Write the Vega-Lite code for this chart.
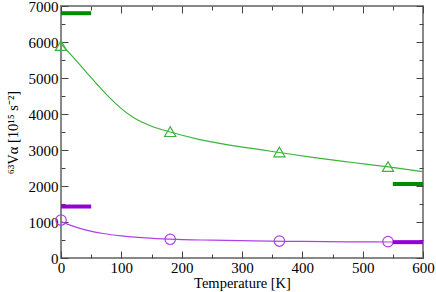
{
  "$schema": "https://vega.github.io/schema/vega-lite/v6.json",
  "width": 362,
  "height": 252,
  "autosize": "none",
  "padding": {"left": 61, "top": 6, "right": 13, "bottom": 34},
  "config": {
    "font": "serif",
    "view": {"stroke": "#888888", "strokeWidth": 2},
    "axis": {"grid": false, "domain": false, "labelFont": "serif", "titleFont": "serif", "labelColor": "black", "titleColor": "black", "labelFontSize": 15, "titleFontSize": 14.5, "titleFontWeight": "normal", "tickColor": "#444444", "tickWidth": 1, "format": "d"}
  },
  "datasets": {
    "curves": [
      {"T": 0, "V": 5950, "s": "g"}, {"T": 20, "V": 5580, "s": "g"}, {"T": 40, "V": 5200, "s": "g"}, {"T": 60, "V": 4820, "s": "g"}, {"T": 80, "V": 4460, "s": "g"}, {"T": 100, "V": 4150, "s": "g"}, {"T": 120, "V": 3900, "s": "g"}, {"T": 150, "V": 3660, "s": "g"}, {"T": 181, "V": 3500, "s": "g"}, {"T": 230, "V": 3290, "s": "g"}, {"T": 313, "V": 3050, "s": "g"}, {"T": 362, "V": 2930, "s": "g"}, {"T": 420, "V": 2790, "s": "g"}, {"T": 480, "V": 2660, "s": "g"}, {"T": 543, "V": 2530, "s": "g"}, {"T": 600, "V": 2400, "s": "g"},
      {"T": 0, "V": 1010, "s": "p"}, {"T": 20, "V": 885, "s": "p"}, {"T": 40, "V": 780, "s": "p"}, {"T": 70, "V": 680, "s": "p"}, {"T": 100, "V": 615, "s": "p"}, {"T": 140, "V": 560, "s": "p"}, {"T": 180, "V": 525, "s": "p"}, {"T": 250, "V": 495, "s": "p"}, {"T": 320, "V": 475, "s": "p"}, {"T": 400, "V": 460, "s": "p"}, {"T": 480, "V": 450, "s": "p"}, {"T": 543, "V": 445, "s": "p"}, {"T": 600, "V": 440, "s": "p"}
    ],
    "points": [
      {"T": 0, "V": 5900, "s": "g"}, {"T": 181, "V": 3510, "s": "g"}, {"T": 362, "V": 2945, "s": "g"}, {"T": 542, "V": 2540, "s": "g"},
      {"T": 0, "V": 1055, "s": "p"}, {"T": 181, "V": 520, "s": "p"}, {"T": 362, "V": 470, "s": "p"}, {"T": 542, "V": 455, "s": "p"}
    ],
    "bars": [
      {"T1": 0, "T2": 50, "V": 6800, "s": "g"}, {"T1": 550, "T2": 600, "V": 2055, "s": "g"},
      {"T1": 0, "T2": 50, "V": 1430, "s": "p"}, {"T1": 550, "T2": 600, "V": 440, "s": "p"}
    ]
  },
  "layer": [
    {
      "data": {"name": "curves"},
      "mark": {"type": "line", "strokeWidth": 1.2, "interpolate": "monotone"},
      "encoding": {
        "x": {"field": "T", "type": "quantitative", "scale": {"domain": [0, 600], "nice": false}, "axis": null},
        "y": {"field": "V", "type": "quantitative", "scale": {"domain": [0, 7000], "nice": false}, "axis": null},
        "color": {"field": "s", "type": "nominal", "scale": {"domain": ["g", "p"], "range": ["#3cb43c", "#b040e6"]}, "legend": null}
      }
    },
    {
      "data": {"name": "points"},
      "mark": {"type": "point", "filled": false, "strokeWidth": 1.2, "opacity": 1},
      "encoding": {
        "x": {"field": "T", "type": "quantitative", "axis": null},
        "y": {"field": "V", "type": "quantitative", "axis": null},
        "color": {"field": "s", "type": "nominal", "scale": {"domain": ["g", "p"], "range": ["#3cb43c", "#b040e6"]}, "legend": null},
        "shape": {"field": "s", "type": "nominal", "scale": {"domain": ["g", "p"], "range": ["triangle-up", "circle"]}, "legend": null},
        "size": {"field": "s", "type": "nominal", "scale": {"domain": ["g", "p"], "range": [125, 110]}, "legend": null}
      }
    },
    {
      "data": {"name": "bars"},
      "mark": {"type": "rule", "strokeWidth": 4},
      "encoding": {
        "x": {"field": "T1", "type": "quantitative", "axis": null},
        "x2": {"field": "T2"},
        "y": {"field": "V", "type": "quantitative", "axis": null},
        "color": {"field": "s", "type": "nominal", "scale": {"domain": ["g", "p"], "range": ["#008b00", "#9400d3"]}, "legend": null}
      }
    },
    {
      "data": {"values": [{}]},
      "mark": {"type": "point", "opacity": 0},
      "encoding": {
        "x": {"datum": 0, "type": "quantitative", "axis": {"orient": "bottom", "values": [0, 100, 200, 300, 400, 500, 600], "ticks": false, "labelPadding": 2, "title": "Temperature [K]", "titlePadding": 1, "labelFlush": false}},
        "y": {"datum": 0, "type": "quantitative", "axis": {"orient": "left", "values": [0, 1000, 2000, 3000, 4000, 5000, 6000, 7000], "ticks": false, "labelPadding": 3, "title": "⁶³Vα [10¹⁵ s⁻²]", "titlePadding": 8, "labelFlush": false}}
      }
    },
    {
      "data": {"values": [{}]},
      "mark": {"type": "point", "opacity": 0},
      "encoding": {
        "x": {"datum": 0, "type": "quantitative", "axis": {"orient": "bottom", "values": [0, 100, 200, 300, 400, 500, 600], "labels": false, "tickSize": -7, "title": null}},
        "y": {"datum": 0, "type": "quantitative", "axis": {"orient": "left", "values": [0, 1000, 2000, 3000, 4000, 5000, 6000, 7000], "labels": false, "tickSize": -7, "title": null}}
      }
    },
    {
      "data": {"values": [{}]},
      "mark": {"type": "point", "opacity": 0},
      "encoding": {
        "x": {"datum": 0, "type": "quantitative", "axis": {"orient": "bottom", "values": [50, 150, 250, 350, 450, 550], "labels": false, "tickSize": -4, "title": null}},
        "y": {"datum": 0, "type": "quantitative", "axis": {"orient": "left", "values": [500, 1500, 2500, 3500, 4500, 5500, 6500], "labels": false, "tickSize": -4, "title": null}}
      }
    },
    {
      "data": {"values": [{}]},
      "mark": {"type": "point", "opacity": 0},
      "encoding": {
        "x": {"datum": 0, "type": "quantitative", "axis": {"orient": "top", "values": [0, 100, 200, 300, 400, 500, 600], "labels": false, "tickSize": -7, "title": null}},
        "y": {"datum": 0, "type": "quantitative", "axis": {"orient": "right", "values": [0, 1000, 2000, 3000, 4000, 5000, 6000, 7000], "labels": false, "tickSize": -7, "title": null}}
      }
    },
    {
      "data": {"values": [{}]},
      "mark": {"type": "point", "opacity": 0},
      "encoding": {
        "x": {"datum": 0, "type": "quantitative", "axis": {"orient": "top", "values": [50, 150, 250, 350, 450, 550], "labels": false, "tickSize": -4, "title": null}},
        "y": {"datum": 0, "type": "quantitative", "axis": {"orient": "right", "values": [500, 1500, 2500, 3500, 4500, 5500, 6500], "labels": false, "tickSize": -4, "title": null}}
      }
    }
  ],
  "resolve": {"scale": {"color": "independent"}, "axis": {"x": "independent", "y": "independent"}}
}
